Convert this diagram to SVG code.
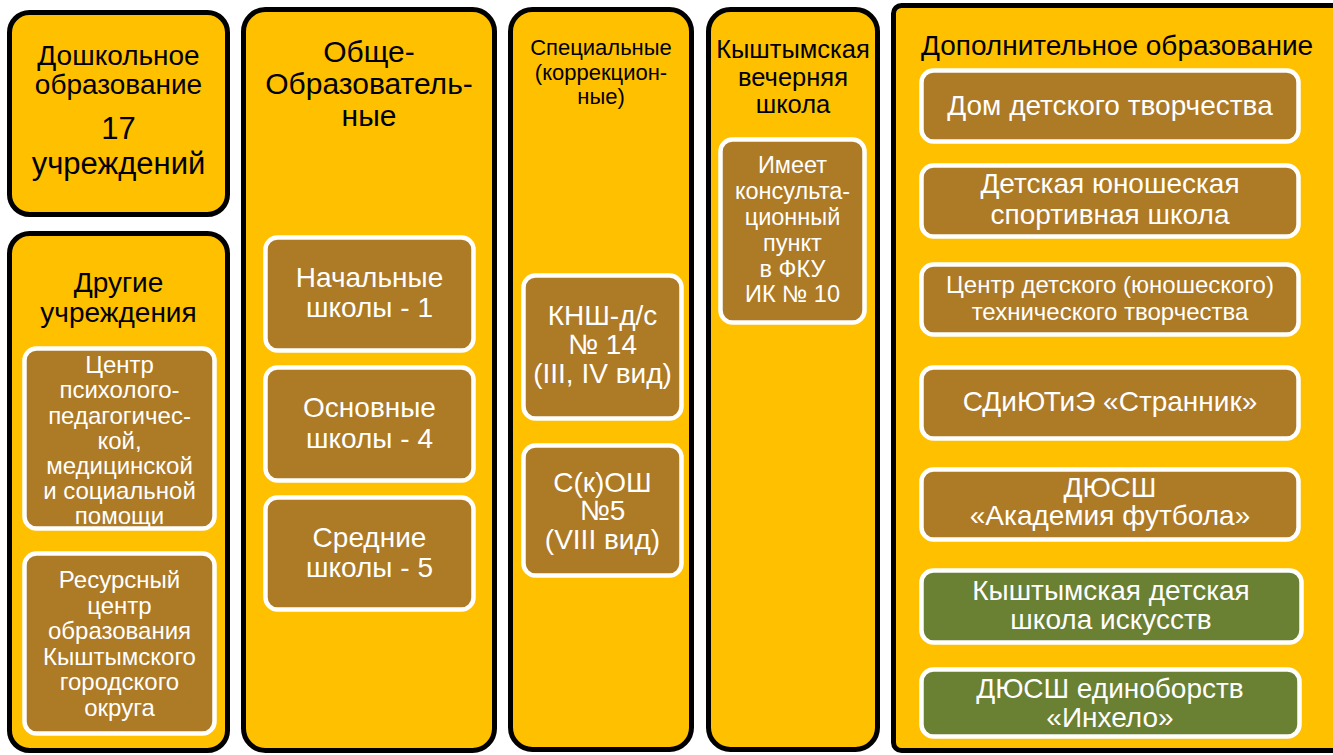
<svg xmlns="http://www.w3.org/2000/svg" width="1333" height="755" viewBox="0 0 1333 755">
<defs>
<style>
.outer{fill:#FFC000;stroke:#000;stroke-width:5}
.inner{fill:#AD7A25;stroke:#fff;stroke-width:4.5}
.green{fill:#6A8033;stroke:#fff;stroke-width:4.5}
text{font-family:"Liberation Sans",Arial,sans-serif;text-anchor:middle}
.dk{fill:#000}
.wt{fill:#fff}
</style>
</defs>
<rect width="1333" height="755" fill="#fff"/>
<g id="connectors"/>
<g id="preschool">
<rect class="outer" x="9.5" y="12.5" width="218" height="202" rx="20"/>
<text class="dk" font-size="28"><tspan x="118.5" y="65">Дошкольное</tspan><tspan x="118.5" y="94">образование</tspan></text>
<text class="dk" font-size="31"><tspan x="118.5" y="139">17</tspan><tspan x="118.5" y="174">учреждений</tspan></text>
</g>
<g id="other">
<rect class="outer" x="9.5" y="233.5" width="218" height="517" rx="20"/>
<text class="dk" font-size="28"><tspan x="118.5" y="292">Другие</tspan><tspan x="118.5" y="322">учреждения</tspan></text>
</g>
<g id="center-ppms">
<rect class="inner" x="24.5" y="348.5" width="190" height="180" rx="12"/>
<text class="wt" font-size="24"><tspan x="119.5" y="373">Центр</tspan><tspan x="119.5" y="398">психолого-</tspan><tspan x="119.5" y="424">педагогичес-</tspan><tspan x="119.5" y="449">кой,</tspan><tspan x="119.5" y="474">медицинской</tspan><tspan x="119.5" y="499">и социальной</tspan><tspan x="119.5" y="524">помощи</tspan></text>
</g>
<g id="resource-center">
<rect class="inner" x="24.5" y="553.5" width="190" height="180" rx="12"/>
<text class="wt" font-size="24"><tspan x="119.5" y="588">Ресурсный</tspan><tspan x="119.5" y="614">центр</tspan><tspan x="119.5" y="639">образования</tspan><tspan x="119.5" y="665">Кыштымского</tspan><tspan x="119.5" y="690">городского</tspan><tspan x="119.5" y="716">округа</tspan></text>
</g>
<g id="general">
<rect class="outer" x="243.5" y="9.5" width="251" height="741" rx="22"/>
<text class="dk" font-size="30"><tspan x="369" y="62">Обще-</tspan><tspan x="369" y="94">Образователь-</tspan><tspan x="369" y="126">ные</tspan></text>
</g>
<g id="primary">
<rect class="inner" x="265.5" y="237.5" width="208" height="113" rx="12"/>
<text class="wt" font-size="28"><tspan x="369.5" y="287">Начальные</tspan><tspan x="369.5" y="317">школы - 1</tspan></text>
</g>
<g id="basic">
<rect class="inner" x="265.5" y="367.5" width="208" height="113" rx="12"/>
<text class="wt" font-size="28"><tspan x="369.5" y="417">Основные</tspan><tspan x="369.5" y="448">школы - 4</tspan></text>
</g>
<g id="secondary">
<rect class="inner" x="265.5" y="497.5" width="208" height="112" rx="12"/>
<text class="wt" font-size="28"><tspan x="369.5" y="547">Средние</tspan><tspan x="369.5" y="577">школы - 5</tspan></text>
</g>
<g id="special">
<rect class="outer" x="510.5" y="9.5" width="181" height="740" rx="22"/>
<text class="dk" font-size="22"><tspan x="601" y="55">Специальные</tspan><tspan x="601" y="80">(коррекцион-</tspan><tspan x="601" y="104">ные)</tspan></text>
</g>
<g id="knsh">
<rect class="inner" x="523.5" y="275.5" width="158" height="143" rx="12"/>
<text class="wt" font-size="28"><tspan x="602.5" y="325">КНШ-д/с</tspan><tspan x="602.5" y="354">№ 14</tspan><tspan x="602.5" y="383">(III, IV вид)</tspan></text>
</g>
<g id="skosh">
<rect class="inner" x="523.5" y="445.5" width="158" height="130" rx="12"/>
<text class="wt" font-size="28"><tspan x="602.5" y="492">С(к)ОШ</tspan><tspan x="602.5" y="520">№5</tspan><tspan x="602.5" y="549">(VIII вид)</tspan></text>
</g>
<g id="evening">
<rect class="outer" x="708.5" y="9.5" width="169" height="740" rx="22"/>
<text class="dk" font-size="25.5"><tspan x="793" y="58">Кыштымская</tspan><tspan x="793" y="86">вечерняя</tspan><tspan x="793" y="113">школа</tspan></text>
</g>
<g id="consult">
<rect class="inner" x="720.5" y="139.5" width="144" height="183" rx="12"/>
<text class="wt" font-size="23.5"><tspan x="792.5" y="173">Имеет</tspan><tspan x="792.5" y="199">консульта-</tspan><tspan x="792.5" y="225">ционный</tspan><tspan x="792.5" y="251">пункт</tspan><tspan x="792.5" y="277">в ФКУ</tspan><tspan x="792.5" y="302">ИК № 10</tspan></text>
</g>
<g id="additional">
<rect class="outer" x="893.5" y="5.5" width="450" height="745" rx="8"/>
<text class="dk" font-size="28" x="1117" y="55">Дополнительное образование</text>
</g>
<g id="ddt">
<rect class="inner" x="921.5" y="70.5" width="377" height="71" rx="12"/>
<text class="wt" font-size="28" x="1110" y="115">Дом детского творчества</text>
</g>
<g id="dyussh">
<rect class="inner" x="921.5" y="165.5" width="377" height="71" rx="12"/>
<text class="wt" font-size="28"><tspan x="1110" y="193">Детская юношеская</tspan><tspan x="1110" y="224">спортивная школа</tspan></text>
</g>
<g id="cdutt">
<rect class="inner" x="921.5" y="264.5" width="377" height="70" rx="12"/>
<text class="wt" font-size="24"><tspan x="1110" y="293">Центр детского (юношеского)</tspan><tspan x="1110" y="320">технического творчества</tspan></text>
</g>
<g id="strannik">
<rect class="inner" x="921.5" y="367.5" width="377" height="71" rx="12"/>
<text class="wt" font-size="28" x="1110" y="411">СДиЮТиЭ «Странник»</text>
</g>
<g id="football">
<rect class="inner" x="921.5" y="469.5" width="377" height="70" rx="12"/>
<text class="wt" font-size="28"><tspan x="1110" y="497">ДЮСШ</tspan><tspan x="1110" y="525">«Академия футбола»</tspan></text>
</g>
<g id="arts">
<rect class="green" x="921.5" y="570.5" width="380" height="72" rx="12"/>
<text class="wt" font-size="28"><tspan x="1111" y="600">Кыштымская детская</tspan><tspan x="1111" y="629">школа искусств</tspan></text>
</g>
<g id="inhelo">
<rect class="green" x="921.5" y="669.5" width="378" height="67" rx="12"/>
<text class="wt" font-size="28"><tspan x="1110" y="698">ДЮСШ единоборств</tspan><tspan x="1110" y="727">«Инхело»</tspan></text>
</g>
</svg>
